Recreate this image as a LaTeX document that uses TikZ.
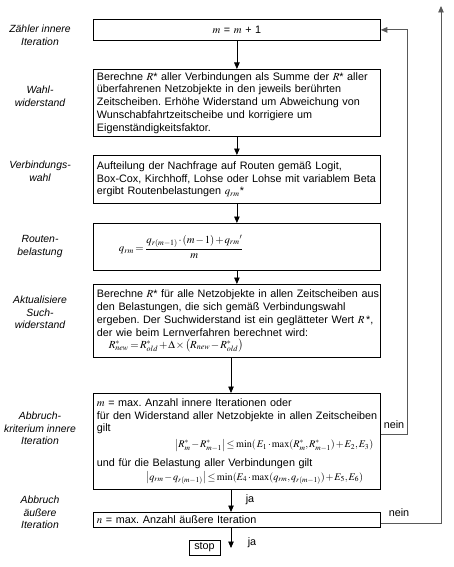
\documentclass[tikz,border=0pt]{standalone}
\usepackage{amsmath}
\usepackage{mathptmx}
\usepackage[no-math]{fontspec}
\setmainfont{Liberation Sans}
\usetikzlibrary{arrows.meta}
\frenchspacing
\newcommand{\tightm}{\medmuskip=1.5mu\thickmuskip=2.5mu\thinmuskip=1.5mu}
\newcommand{\Ln}[1]{\mbox{#1}}
\tikzset{
  box/.style={draw, line width=0.8pt, anchor=north west, minimum width=287pt,
    text width=280pt, inner xsep=3.5pt, inner ysep=2pt, align=left,
    font=\fontsize{10.8}{12.8}\selectfont},
  lbl/.style={align=center, font=\fontsize{10.4}{12.6}\selectfont\itshape},
  txt/.style={font=\fontsize{10.8}{12.6}\selectfont, inner sep=0pt},
  arr/.style={line width=0.8pt, -{Triangle[width=5.5pt,length=6.5pt]}},
  fb/.style={line width=0.9pt, draw=black!65, -{Triangle[width=5.5pt,length=6.5pt]}}
}
\begin{document}
\begin{tikzpicture}[x=1pt,y=-1pt]
\useasboundingbox (0,0) rectangle (454,567);
% left labels
\node[lbl] (l1) at (40,35.5) {Zähler innere\\Iteration};
\node[lbl] (l2) at (40,96) {Wahl-\\widerstand};
\node[lbl] (l3) at (40,171) {Verbindungs-\\wahl};
\node[lbl] (l4) at (40,246.5) {Routen-\\belastung};
\node[lbl] (l5) at (40,312.5) {Aktualisiere\\Such-\\widerstand};
\node[lbl] (l6) at (40,428.5) {Abbruch-\\kriterium innere\\Iteration};
\node[lbl] (l7) at (40,512.5) {Abbruch\\äußere\\Iteration};
% boxes
\node[box, minimum height=21pt, align=center] (b1) at (93,19) {$m$ = $m$ + 1};
\node[box, minimum height=67pt] (b2) at (93,69) {\Ln{Berechne $R$* aller Verbindungen als Summe der $R$* aller}\\
\Ln{überfahrenen Netzobjekte in den jeweils berührten}\\
\Ln{Zeitscheiben. Erhöhe Widerstand um Abweichung von}\\
\Ln{Wunschabfahrtzeitscheibe und korrigiere um}\\
\Ln{Eigenständigkeitsfaktor.}};
\node[box, minimum height=48pt] (b3) at (93,155) {\Ln{Aufteilung der Nachfrage auf Routen gemäß Logit,}\\
\Ln{Box-Cox, Kirchhoff, Lohse oder Lohse mit variablem Beta}\\
\Ln{ergibt Routenbelastungen $q_{rm}$*}};
\node[box, minimum height=47pt] (b4) at (93,223) {\Ln{\hspace*{22pt}{\tightm$q_{rm} = \dfrac{q_{r(m-1)}\cdot(m-1)+q_{rm}{}'}{m}$}}};
\node[box, minimum height=73pt, inner ysep=1.5pt] (b5) at (93,284) {\Ln{Berechne $R$* für alle Netzobjekte in allen Zeitscheiben aus}\\
\Ln{den Belastungen, die sich gemäß Verbindungswahl}\\
\Ln{ergeben. Der Suchwiderstand ist ein geglätteter Wert $R$\,*,}\\
\Ln{der wie beim Lernverfahren berechnet wird:}\\[-1pt]
\Ln{\hspace*{12pt}{\tightm$R^*_{new} = R^*_{old} + \Delta\times\left(R_{new}-R^*_{old}\right)$}}};
\node[box, minimum height=96pt, inner ysep=1pt] (b6) at (93,393) {\Ln{$m$ = max. Anzahl innere Iterationen oder}\\[0pt]
\Ln{für den Widerstand aller Netzobjekte in allen Zeitscheiben}\\[0pt]
\Ln{gilt}\\[3pt]
\Ln{\hspace*{78pt}{\fontsize{10.2}{12}\selectfont\tightm$\left|R^*_m-R^*_{m-1}\right|\le\min(\,E_1\cdot\max(R^*_m,R^*_{m-1})+E_2,E_3)$}}\\[6pt]
\Ln{und für die Belastung aller Verbindungen gilt}\\[1pt]
\Ln{\hspace*{49pt}{\fontsize{10.2}{12}\selectfont\tightm$\left|q_{rm}-q_{r(m-1)}\right|\le\min(E_4\cdot\max(q_{rm},q_{r(m-1)})+E_5,E_6)$}}};
\node[box, minimum height=15pt, inner ysep=1pt] (b7) at (93,512) {\Ln{$n$ = max. Anzahl äußere Iteration}};
\node[draw, line width=0.8pt, minimum width=31pt, minimum height=15pt, inner sep=1pt,
  font=\fontsize{10.8}{12}\selectfont] (stop) at (204.5,547.5) {stop};
% coordinates
\coordinate (lx) at (231,0);
\coordinate (endp) at (231,548);
\coordinate (i1) at (407,434);
\coordinate (o1) at (441,523);
\coordinate (otop) at (441,6);
% main arrows
\draw[arr] (b1.south) -- (b2.north);
\draw[arr] (b2.south) -- (b3.north);
\draw[arr] (b3.south) -- (b4.north);
\draw[arr] (b4.south) -- (b5.north);
\draw[arr] (b5.south -| lx) -- (b6.north -| lx);
\draw[arr] (b6.south -| lx) -- (b7.north -| lx);
\draw[arr] (b7.south -| lx) -- (endp);
% feedback
\draw[fb] (b6.east |- i1) -- (i1) -- (i1 |- b1.east) -- (b1.east);
\draw[fb] (b7.east |- o1) -- (o1) -- (otop);
% labels
\node[txt] (n1) at (394,425) {nein};
\node[txt] (n2) at (399,513) {nein};
\node[txt] (j1) at (250,500) {ja};
\node[txt] (j2) at (252,543) {ja};
\end{tikzpicture}
\end{document}
